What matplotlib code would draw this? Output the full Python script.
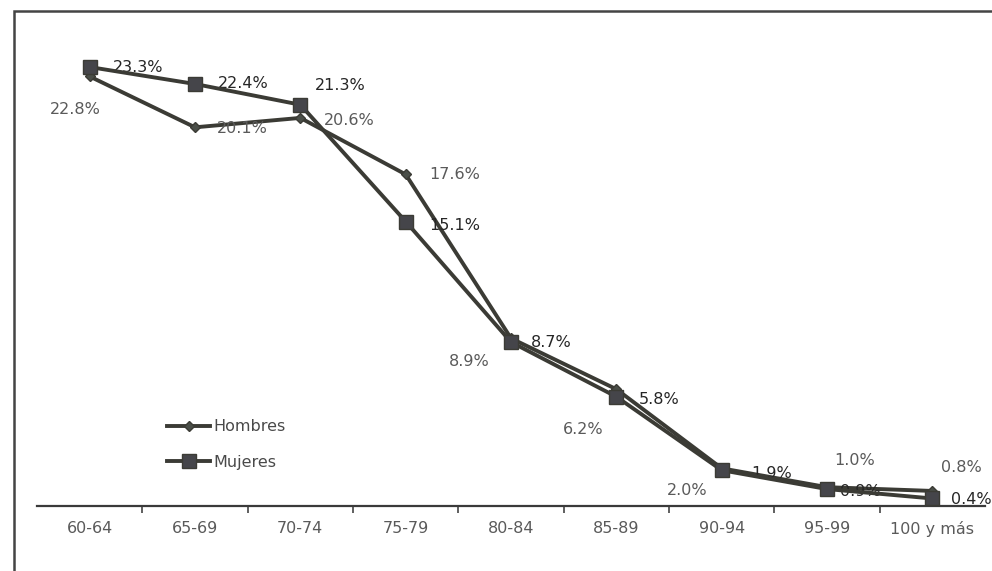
import matplotlib
matplotlib.use("Agg")
import matplotlib.pyplot as plt
from matplotlib.patches import Rectangle

plt.rcParams['font.family'] = ['DejaVu Sans']

categories = ["60-64", "65-69", "70-74", "75-79", "80-84", "85-89", "90-94", "95-99", "100 y más"]
hombres = [22.8, 20.1, 20.6, 17.6, 8.9, 6.2, 2.0, 1.0, 0.8]
mujeres = [23.3, 22.4, 21.3, 15.1, 8.7, 5.8, 1.9, 0.9, 0.4]
series_names = ["Hombres", "Mujeres"]

# label offsets (points) -- styling only
h_off = [(-10, -24), (34, -1), (35, -2), (35, 0), (-30, -17), (-24, -29), (-25, -16), (20, 19), (21, 17)]
m_off = [(35, 0), (35, 0), (29, 14), (35, -3), (29, 0), (31, -2), (36, -2), (24, -2), (28, -1)]

fig = plt.figure(figsize=(9.92, 5.71), dpi=100)
ax = fig.add_axes([0.0373, 0.1138, 0.9557, 0.8249])

x = list(range(len(categories)))
lc = "#3b3b35"
ax.plot(x, hombres, color=lc, lw=2.8, marker="D", ms=5, mfc="#4a4e48", mec=lc,
        label=series_names[0], zorder=3)
ax.plot(x, mujeres, color=lc, lw=2.8, marker="s", ms=10, mfc="#45454a", mec=lc,
        label=series_names[1], zorder=4)

for i, v in enumerate(hombres):
    ax.annotate(f"{v:.1f}%", (i, v), xytext=h_off[i], textcoords="offset points",
                ha="center", va="center", fontsize=11.5, color="#5a5a5a")
for i, v in enumerate(mujeres):
    ax.annotate(f"{v:.1f}%", (i, v), xytext=m_off[i], textcoords="offset points",
                ha="center", va="center", fontsize=11.5, color="#262626")

ax.set_xlim(-0.5, len(categories) - 0.5)
ax.set_ylim(0, 25)
ax.set_xticks([i + 0.5 for i in range(len(categories) - 1)], minor=False)
ax.set_xticklabels([])
ax.set_xticks(x, minor=True)
ax.set_xticklabels(categories, minor=True)
ax.tick_params(axis="x", which="major", length=5, width=1.2, color="#444444", direction="out")
ax.tick_params(axis="x", which="minor", length=0, pad=11, labelsize=11.5, labelcolor="#5a5a5a")
ax.set_yticks([])
for s in ["left", "right", "top"]:
    ax.spines[s].set_visible(False)
ax.spines["bottom"].set_color("#3a3a3a")
ax.spines["bottom"].set_linewidth(1.6)

leg = ax.legend(loc="upper left", bbox_to_anchor=(0.122, 0.215), frameon=False,
                fontsize=11.5, handlelength=2.7, labelspacing=1.3, handletextpad=0.2)
for t in leg.get_texts():
    t.set_color("#4a4a4a")

fig.patches.append(Rectangle((14 / 992, -0.1), 1.2, 1 - 11 / 571 + 0.1,
                             transform=fig.transFigure, fill=False,
                             edgecolor="#444444", lw=1.8))

fig.savefig("out.png", dpi=100, facecolor="white")
